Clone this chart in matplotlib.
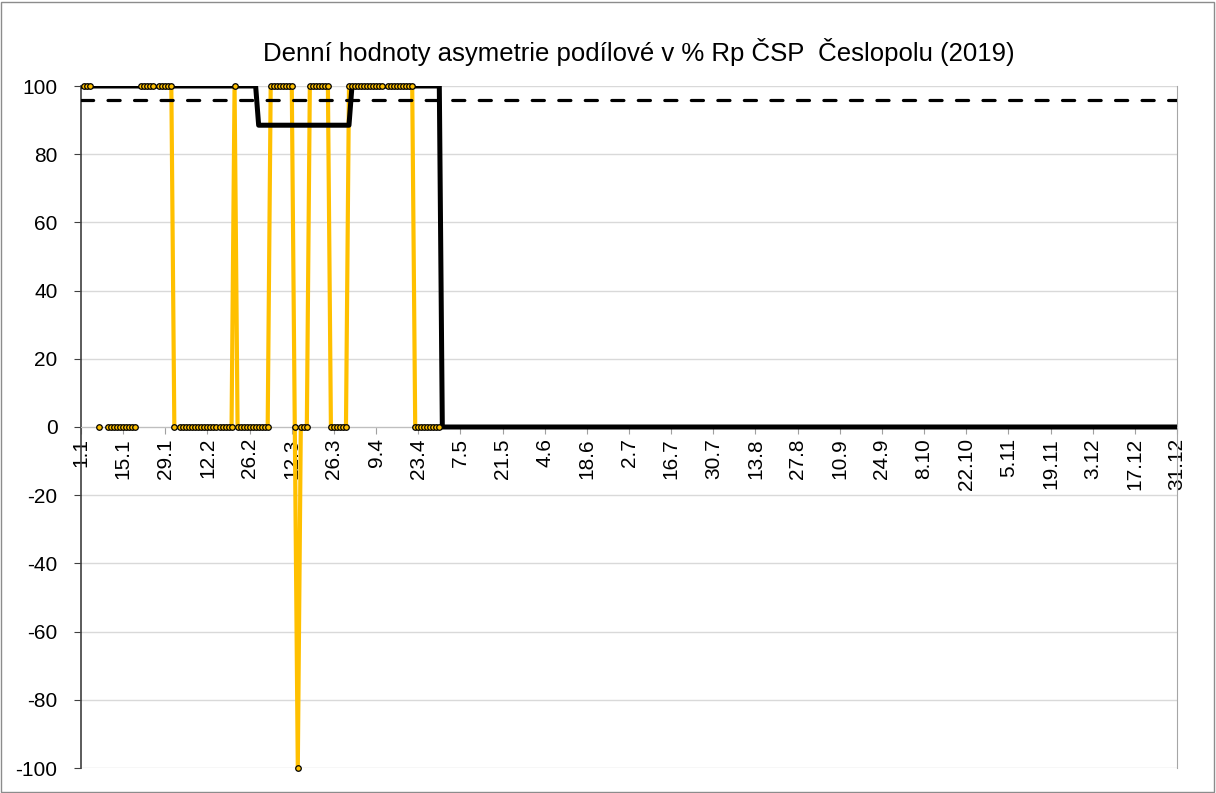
import datetime as dt

import matplotlib.pyplot as plt
import numpy as np
from matplotlib.patches import Rectangle

nan = np.nan

# Daily values Jan-Apr (blank = no value that day)
jan = [nan, 100, 100, 100, nan, nan, 0, nan, nan, 0,
       0, 0, 0, 0, 0, 0, 0, 0, 0, nan,
       100, 100, 100, 100, 100, nan, 100, 100, 100, 100, 100]
feb = [0, nan, 0, 0, 0, 0, 0, 0, 0, 0,
       0, 0, 0, 0, 0, 0, 0, 0, 0, 0,
       100, 0, 0, 0, 0, 0, 0, 0]
mar = [0, 0, 0, 0, 100, 100, 100, 100, 100, 100,
       100, 100, 0, -100, 0, 0, 0, 100, 100, 100,
       100, 100, 100, 100, 0, 0, 0, 0, 0, 0, 100]
apr = [100, 100, 100, 100, 100, 100, 100, 100, 100, 100,
       100, nan, 100, 100, 100, 100, 100, 100, 100, 100,
       100, 0, 0, 0, 0, 0, 0, 0, 0, 0]
daily = jan + feb + mar + apr

# Monthly value (black line) and the limit (dashed line)
monthly = [100, 100, 88.5, 100, 0, 0, 0, 0, 0, 0, 0, 0]
month_days = [31, 28, 31, 30, 31, 30, 31, 31, 30, 31, 30, 31]
limit = 96

y_ticks = [-100, -80, -60, -40, -20, 0, 20, 40, 60, 80, 100]

title = "Denní hodnoty asymetrie podílové v % Rp ČSP  Česlopolu (2019)"

days = np.arange(1, 366)
monthly_daily = np.repeat(monthly, month_days)
daily_days = np.arange(1, len(daily) + 1)
daily = np.array(daily, dtype=float)

# x tick labels every 14 days, written as d.m
tick_days = np.arange(1, 366, 14)
start = dt.date(2019, 1, 1)
tick_labels = []
for d in tick_days:
    day = start + dt.timedelta(days=int(d) - 1)
    tick_labels.append(f"{day.day}.{day.month}")

plt.rcParams["font.family"] = ["Liberation Sans", "DejaVu Sans"]

fig = plt.figure(figsize=(12.16, 7.93), dpi=100)
ax = fig.add_axes([81 / 1216, 1 - 768 / 793, (1177 - 81) / 1216, (768 - 86) / 793])

# axis crosses at 0 (set before tick labels, it resets the ticks)
ax.spines["bottom"].set_position(("data", 0))
ax.spines["bottom"].set_color("#bfbfbf")
ax.spines["top"].set_visible(False)
ax.spines["right"].set_color("#a6a6a6")
ax.spines["left"].set_color("#404040")
ax.spines["left"].set_linewidth(1.2)

yellow = "#FFC000"
ax.plot(daily_days, daily, color=yellow, lw=3, zorder=2)
ax.plot(days, monthly_daily, color="black", lw=3.6, zorder=3)
ax.axhline(limit, color="black", lw=2.3, dashes=(3.8, 4.5),
           dash_capstyle="round", zorder=3)
ax.plot(daily_days, daily, ls="none", marker="o", ms=4, mfc=yellow,
        mec="black", mew=0.9, zorder=4, clip_on=False)

ax.set_xlim(1, 365)
ax.set_ylim(-100, 100)
ax.set_yticks(y_ticks)
ax.set_yticklabels([str(v) for v in y_ticks])
ax.set_xticks(tick_days)
ax.set_xticklabels(tick_labels, rotation=90, va="top", ha="center")

ax.grid(axis="y", color="#d9d9d9", lw=1)
ax.set_axisbelow(True)

ax.tick_params(axis="y", direction="out", length=5, color="#404040",
               labelsize=15, pad=12)
ax.tick_params(axis="x", direction="out", length=5, color="#a0a0a0",
               labelsize=15, pad=3)

fig.text(0.525, 1 - 52 / 793, title, ha="center", va="center", fontsize=18.5)

fig.add_artist(Rectangle((0.001, 0.001), 0.997, 0.997, transform=fig.transFigure,
                         fill=False, ec="#8c8c8c", lw=1))

fig.savefig("out.png", dpi=100)
